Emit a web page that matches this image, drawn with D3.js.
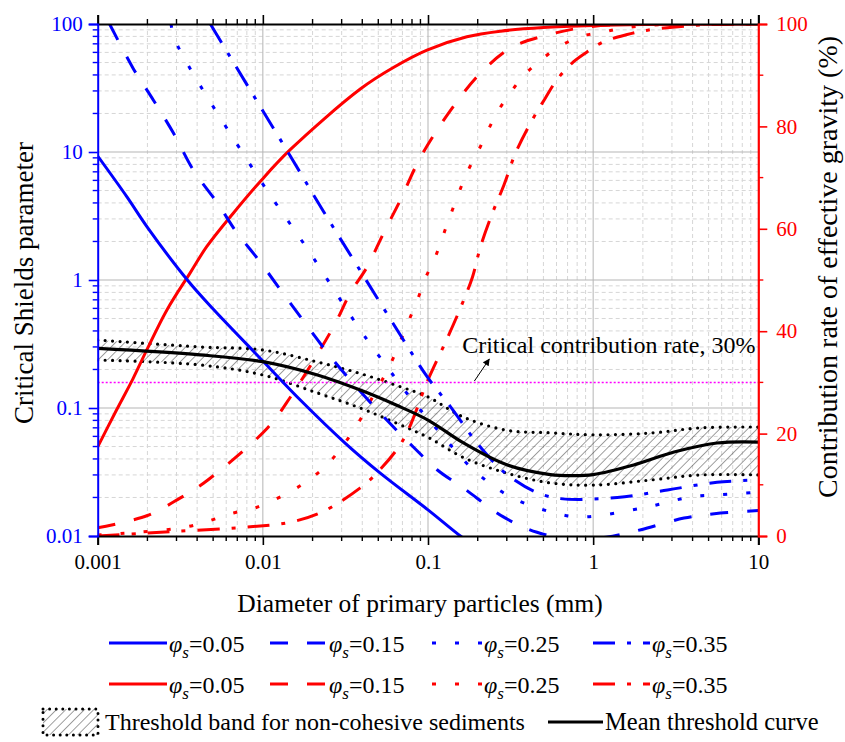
<!DOCTYPE html>
<html>
<head>
<meta charset="utf-8">
<script src="https://cdn.jsdelivr.net/npm/d3@7"></script>
<style>
body { margin: 0; background: #fff; }
svg { display: block; }
svg text { font-family: "Liberation Serif", "Times New Roman", serif; }
</style>
</head>
<body>
<svg id="chart"></svg>
<script>
// ---- data ----
const diameterTicks = [0.001, 0.01, 0.1, 1, 10];
const shieldsTicks = [0.01, 0.1, 1, 10, 100];
const rateTicks = [0, 20, 40, 60, 80, 100];
const phiLabels = ["0.05", "0.15", "0.25", "0.35"];

// critical Shields parameter (left axis), [diameter mm, value]
const shields005 = [[0.001, 9.3], [0.0015, 4.48], [0.002, 2.58], [0.0035, 0.995], [0.005, 0.593], [0.01, 0.233],
  [0.0168, 0.116], [0.0316, 0.053], [0.0514, 0.031], [0.1, 0.016], [0.157, 0.01], [0.2, 0.008]];
const shields015 = [[0.00118, 100], [0.00164, 45], [0.00217, 25.5], [0.00288, 14], [0.0038, 7.2], [0.0053, 4.0],
  [0.00698, 2.33], [0.00925, 1.48], [0.01466, 0.66], [0.0267, 0.237], [0.0493, 0.0964], [0.0815, 0.0496],
  [0.114, 0.0328], [0.164, 0.0237], [0.286, 0.0141], [0.457, 0.0107], [0.8, 0.0093], [1.2, 0.0098],
  [1.95, 0.0112], [3.55, 0.0138], [5.9, 0.0151], [10, 0.0158]];
const shields025 = [[0.00278, 100], [0.00297, 72.8], [0.00937, 6.38], [0.0193, 1.63], [0.0389, 0.407],
  [0.0564, 0.21], [0.0818, 0.112], [0.1245, 0.0593], [0.189, 0.0328], [0.316, 0.0202], [0.589, 0.0151],
  [0.851, 0.0141], [2.02, 0.0166], [3.89, 0.0202], [5.37, 0.0209], [10, 0.0219]];
const shields035 = [[0.00481, 100], [0.00838, 30.5], [0.01466, 9.3], [0.0234, 3.4], [0.038, 1.24],
  [0.071, 0.34], [0.099, 0.175], [0.137, 0.102], [0.2075, 0.0495], [0.316, 0.0288], [0.55, 0.0202],
  [1.4, 0.02], [2.82, 0.0229], [5.62, 0.0263], [10, 0.0274]];

// contribution rate of effective gravity, % (right axis)
const rate005 = [[0.001, 17.4], [0.0013, 24.6], [0.00164, 30.8], [0.00198, 36.3], [0.00262, 44.1],
  [0.00363, 51.4], [0.00457, 56.5], [0.0066, 63], [0.0098, 69.5], [0.0147, 75.5], [0.0389, 87.3],
  [0.0617, 91.5], [0.0986, 94.9], [0.172, 97.5], [0.275, 98.6], [0.5, 99.3], [1, 99.7], [2, 99.9], [10, 100]];
const rate015 = [[0.001, 1.6], [0.002, 4.0], [0.00315, 7.4], [0.00437, 10.3], [0.0106, 21], [0.01466, 27.1],
  [0.0267, 40.8], [0.0339, 47.5], [0.0427, 52.5], [0.0537, 59.1], [0.068, 65.6], [0.0862, 72.8],
  [0.107, 78], [0.147, 84.5], [0.2075, 90.4], [0.324, 95.5], [0.537, 97.9], [0.91, 99.4], [2, 100], [10, 100]];
const rate025 = [[0.001, 0.2], [0.00347, 1.8], [0.00664, 4.5], [0.009, 5.5], [0.0153, 9], [0.02, 11.5],
  [0.0255, 14.5], [0.0372, 21.7], [0.0468, 27.5], [0.0589, 33.4], [0.0759, 41.8], [0.0861, 46],
  [0.0966, 50.4], [0.1107, 54.5], [0.1368, 62.7], [0.172, 70.9], [0.2, 75], [0.263, 82.8], [0.309, 86.1],
  [0.372, 89.6], [0.468, 92.6], [0.617, 95.5], [0.832, 97.5], [1.15, 98.4], [1.51, 99.2], [3, 100], [10, 100]];
const rate035 = [[0.001, 0], [0.002, 0.6], [0.0084, 1.8], [0.0147, 2.7], [0.0229, 4.7], [0.0389, 9.4],
  [0.049, 12.3], [0.0708, 18.8], [0.1, 30.5], [0.132, 38.9], [0.158, 44.7], [0.186, 50.6], [0.2075, 56.4],
  [0.245, 63], [0.288, 68.5], [0.339, 74.8], [0.437, 81.8], [0.513, 85.5], [0.603, 89.1], [0.759, 92.6],
  [0.955, 94.9], [1.15, 96.5], [1.585, 97.9], [2.14, 98.8], [4.5, 99.8], [10, 100]];

// threshold band and mean threshold curve (left axis)
const bandDiam = [0.001, 0.00417, 0.01, 0.0214, 0.0389, 0.0646, 0.1, 0.164, 0.3, 0.55, 1, 2.24, 4.47, 10];
const bandUpper = [0.34, 0.30, 0.284, 0.229, 0.186, 0.150, 0.122, 0.085, 0.067, 0.064, 0.0617, 0.0638, 0.07, 0.071];
const bandLower = [0.237, 0.217, 0.181, 0.131, 0.1, 0.076, 0.059, 0.041, 0.031, 0.026, 0.025, 0.0274, 0.030, 0.030];
const meanCurve = [[0.001, 0.292], [0.00417, 0.26], [0.01, 0.23], [0.0214, 0.181], [0.0389, 0.138],
  [0.0646, 0.105], [0.1, 0.0805], [0.164, 0.0533], [0.3, 0.036], [0.55, 0.0302], [0.75, 0.0296],
  [1, 0.0302], [1.76, 0.0359], [3.09, 0.0453], [5.62, 0.0533], [10, 0.0542]];

const criticalRate = 30;

// ---- setup ----
const W = 845, H = 742;
const svg = d3.select("#chart").attr("width", W).attr("height", H);

const x = d3.scaleLog().domain([0.001, 10]).range([97.7, 758.3]);
const yL = d3.scaleLog().domain([0.01, 100]).range([536, 24]);
const yR = d3.scaleLinear().domain([0, 100]).range([536, 24]);

const dashes = [null, "18,19", "4,19", "22,12,4,12"];
const curve = d3.curveCatmullRom.alpha(0.5);

function minors(decades) {
  var out = [];
  decades.slice(0, -1).forEach(d => { for (var k = 2; k <= 9; k++) out.push(d * k); });
  return out;
}
const xMinor = minors(diameterTicks);
const yMinor = minors(shieldsTicks);

const defs = svg.append("defs");
defs.append("clipPath").attr("id", "plotclip")
  .append("rect").attr("x", x.range()[0]).attr("y", 24)
  .attr("width", x.range()[1] - x.range()[0]).attr("height", 512);
const hatch = defs.append("pattern").attr("id", "hatch")
  .attr("patternUnits", "userSpaceOnUse").attr("width", 6.6).attr("height", 6.6)
  .attr("patternTransform", "rotate(45)");
hatch.append("line").attr("x1", 0).attr("y1", 0).attr("x2", 0).attr("y2", 6.6)
  .attr("stroke", "#000").attr("stroke-width", 0.75);

// grid
const grid = svg.append("g");
grid.selectAll(".vmin").data(xMinor).enter().append("line")
  .attr("x1", d => x(d)).attr("x2", d => x(d)).attr("y1", 24).attr("y2", 536)
  .attr("stroke", "#d6d6d6").attr("stroke-dasharray", "4,3");
grid.selectAll(".hmin").data(yMinor).enter().append("line")
  .attr("y1", d => yL(d)).attr("y2", d => yL(d)).attr("x1", x.range()[0]).attr("x2", x.range()[1])
  .attr("stroke", "#d6d6d6").attr("stroke-dasharray", "4,3");
grid.selectAll(".vmaj").data(diameterTicks.slice(1, -1)).enter().append("line")
  .attr("x1", d => x(d)).attr("x2", d => x(d)).attr("y1", 24).attr("y2", 536)
  .attr("stroke", "#b5b5b5");
grid.selectAll(".hmaj").data(shieldsTicks.slice(1, -1)).enter().append("line")
  .attr("y1", d => yL(d)).attr("y2", d => yL(d)).attr("x1", x.range()[0]).attr("x2", x.range()[1])
  .attr("stroke", "#b5b5b5");

const plot = svg.append("g").attr("clip-path", "url(#plotclip)");

// threshold band
const band = bandDiam.map((d, i) => [d, bandLower[i], bandUpper[i]]);
plot.append("path").datum(band)
  .attr("d", d3.area().x(d => x(d[0])).y0(d => yL(d[1])).y1(d => yL(d[2])).curve(curve))
  .attr("fill", "url(#hatch)");
[1, 2].forEach(k => {
  plot.append("path").datum(band)
    .attr("d", d3.line().x(d => x(d[0])).y(d => yL(d[k])).curve(curve))
    .attr("fill", "none").attr("stroke", "#000").attr("stroke-width", 3.2)
    .attr("stroke-linecap", "round").attr("stroke-dasharray", "0,7.5");
});

// critical contribution rate line
plot.append("line")
  .attr("x1", x.range()[0]).attr("x2", x.range()[1])
  .attr("y1", yR(criticalRate)).attr("y2", yR(criticalRate))
  .attr("stroke", "#ff00ff").attr("stroke-width", 1.5).attr("stroke-dasharray", "2,2");

const lineL = d3.line().x(d => x(d[0])).y(d => yL(d[1])).curve(curve);
const lineR = d3.line().x(d => x(d[0])).y(d => yR(d[1])).curve(curve);

[rate005, rate015, rate025, rate035].forEach((s, i) => {
  plot.append("path").datum(s).attr("d", lineR)
    .attr("fill", "none").attr("stroke", "#ff0000").attr("stroke-width", 3)
    .attr("stroke-dasharray", dashes[i]);
});
[shields005, shields015, shields025, shields035].forEach((s, i) => {
  plot.append("path").datum(s).attr("d", lineL)
    .attr("fill", "none").attr("stroke", "#0000ff").attr("stroke-width", 3)
    .attr("stroke-dasharray", dashes[i]);
});
plot.append("path").datum(meanCurve).attr("d", lineL)
  .attr("fill", "none").attr("stroke", "#000").attr("stroke-width", 3.2);

// ---- axes ----
const fmt = d => String(d);
function styleAxis(g, color, size) {
  g.attr("font-family", null);
  g.select(".domain").attr("stroke", color).attr("stroke-width", 2);
  g.selectAll(".tick line").attr("stroke", color).attr("stroke-width", 1.6);
  g.selectAll(".tick text").attr("fill", color).style("font-size", size + "px");
}
function minorTicks(g, vals, scale, orient, len, color) {
  g.selectAll(".mt").data(vals).enter().append("line")
    .attr("stroke", color).attr("stroke-width", 1.4)
    .each(function (d) {
      var s = d3.select(this), p = scale(d);
      if (orient === "h") s.attr("x1", p).attr("x2", p).attr("y1", 0).attr("y2", len);
      else s.attr("y1", p).attr("y2", p).attr("x1", 0).attr("x2", len);
    });
}

const xb = svg.append("g").attr("transform", "translate(0,536)")
  .call(d3.axisBottom(x).tickValues(diameterTicks).tickFormat(fmt).tickSizeOuter(0).tickSize(9).tickPadding(9));
styleAxis(xb, "#000", 21);
minorTicks(xb, xMinor, x, "h", 5, "#000");

const xt = svg.append("g").attr("transform", "translate(0,24)")
  .call(d3.axisTop(x).tickValues(diameterTicks).tickFormat("").tickSizeOuter(0).tickSize(9));
styleAxis(xt, "#000", 21);
minorTicks(xt, xMinor, x, "h", -5, "#000");

const yl = svg.append("g").attr("transform", "translate(97.7,0)")
  .call(d3.axisLeft(yL).tickValues(shieldsTicks).tickFormat(fmt).tickSizeOuter(0).tickSize(9).tickPadding(6));
styleAxis(yl, "#0000ff", 21);
minorTicks(yl, yMinor, yL, "v", -5, "#0000ff");

const yr = svg.append("g").attr("transform", "translate(758.3,0)")
  .call(d3.axisRight(yR).tickValues(rateTicks).tickFormat(fmt).tickSizeOuter(0).tickSize(9).tickPadding(9));
styleAxis(yr, "#ff0000", 21);
minorTicks(yr, [10, 30, 50, 70, 90], yR, "v", 5, "#ff0000");
yr.select(".domain").attr("stroke-width", 2.2);

// axis titles
svg.append("text").attr("x", 420).attr("y", 612).attr("text-anchor", "middle")
  .style("font-size", "25.5px").text("Diameter of primary particles (mm)");
svg.append("text").attr("transform", "translate(33,283) rotate(-90)").attr("text-anchor", "middle")
  .style("font-size", "27px").text("Critical Shields parameter");
svg.append("text").attr("transform", "translate(837,267) rotate(-90)").attr("text-anchor", "middle")
  .style("font-size", "28px").text("Contribution rate of effective gravity (%)");

// annotation
svg.append("text").attr("x", x(0.161)).attr("y", yL(0.269))
  .style("font-size", "24px").text("Critical contribution rate, 30%");
defs.append("marker").attr("id", "arrow").attr("viewBox", "0 0 10 10").attr("refX", 9).attr("refY", 5)
  .attr("markerWidth", 9).attr("markerHeight", 7).attr("markerUnits", "userSpaceOnUse").attr("orient", "auto")
  .append("path").attr("d", "M0,0L10,5L0,10Z").attr("fill", "#000");
svg.append("line")
  .attr("x1", x(0.191)).attr("y1", yL(0.1625)).attr("x2", x(0.235)).attr("y2", yL(0.241))
  .attr("stroke", "#000").attr("stroke-width", 1).attr("marker-end", "url(#arrow)");

// ---- legend ----
const legX = [[109, 167], [270, 327], [432, 482], [593, 650]];
const legRows = [{ color: "#0000ff", y: 643 }, { color: "#ff0000", y: 684 }];
legRows.forEach(r => {
  phiLabels.forEach((lab, i) => {
    svg.append("line").attr("x1", legX[i][0]).attr("x2", legX[i][1]).attr("y1", r.y).attr("y2", r.y)
      .attr("stroke", r.color).attr("stroke-width", 3).attr("stroke-dasharray", dashes[i]);
    const t = svg.append("text").attr("x", legX[i][1] + 2).attr("y", r.y + 9).style("font-size", "24px");
    t.append("tspan").style("font-style", "italic").text("φ");
    t.append("tspan").style("font-style", "italic").style("font-size", "17px").attr("dy", 6).text("s");
    t.append("tspan").attr("dy", -6).text("=" + lab);
  });
});

svg.append("rect").attr("x", 43).attr("y", 709).attr("width", 55).attr("height", 26)
  .attr("fill", "url(#hatch)").attr("stroke", "#000").attr("stroke-width", 3)
  .attr("stroke-linecap", "round").attr("stroke-dasharray", "0,6.6");
svg.append("text").attr("x", 105).attr("y", 730).style("font-size", "24px")
  .text("Threshold band for non-cohesive sediments");
svg.append("line").attr("x1", 548).attr("x2", 603).attr("y1", 722).attr("y2", 722)
  .attr("stroke", "#000").attr("stroke-width", 3.2);
svg.append("text").attr("x", 605).attr("y", 730).style("font-size", "24.5px").text("Mean threshold curve");
</script>
</body>
</html>
